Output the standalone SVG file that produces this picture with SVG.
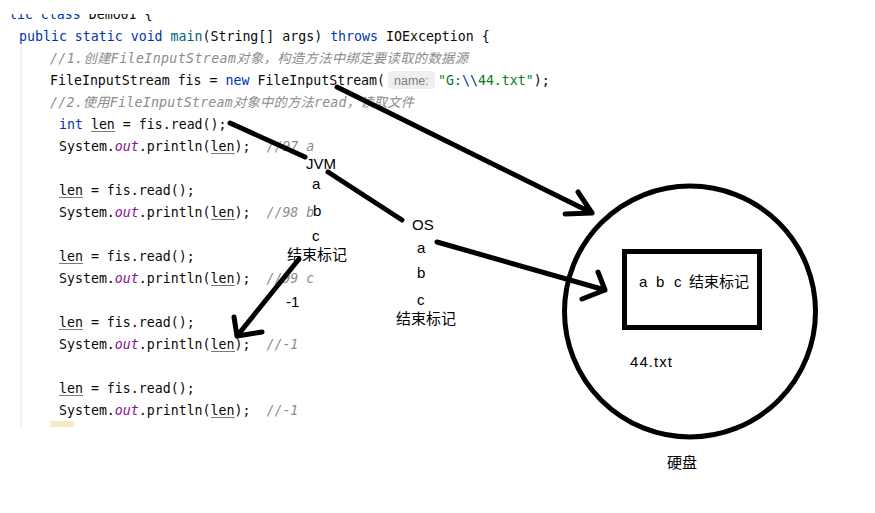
<svg xmlns="http://www.w3.org/2000/svg" width="875" height="513" viewBox="0 0 875 513">
<style>
.code{font-family:"DejaVu Sans Mono","Liberation Mono",monospace;font-size:13.25px;fill:#080808;white-space:pre}
.kw{fill:#0033b3}
.fn{fill:#00627a}
.cm{fill:#8c8c8c;font-style:italic}
.cmz{font-family:"DejaVu Sans Mono","Noto Sans CJK SC",monospace;fill:#8c8c8c;font-style:italic;font-size:13.25px;white-space:pre}
.str{fill:#067d17}
.esc{fill:#0037a6}
.out{fill:#871094;font-style:italic}
.ul{stroke:#7a7a7a;stroke-width:1}
.hint{font-family:"Liberation Sans","Noto Sans",sans-serif;font-size:12.5px;fill:#808080}
.lbl{font-family:"Liberation Sans","Noto Sans CJK SC",sans-serif;font-size:15px;fill:#000}
.shape{fill:none;stroke:#000;stroke-width:5}
</style>
<defs>
<clipPath id="clipTop"><rect x="9" y="14" width="300" height="12"/></clipPath>
</defs>
<rect width="875" height="513" fill="#fff"/>

<g id="code">
<line x1="21" y1="47" x2="21" y2="427" stroke="#e6e6e6" stroke-width="1"/>
<rect x="50" y="421" width="24" height="6" fill="#f5eac6"/>
<text class="code" x="-15" y="19" clip-path="url(#clipTop)"><tspan class="kw">public class</tspan> Demo01 {</text>
<text class="code" x="19" y="41"><tspan class="kw">public static void</tspan> <tspan class="fn">main</tspan>(String[] args) <tspan class="kw">throws</tspan> IOException {</text>
<text class="cmz" x="50" y="63" textLength="418" lengthAdjust="spacing">//1.创建FileInputStream对象，构造方法中绑定要读取的数据源</text>
<text class="code" x="50" y="85">FileInputStream fis = <tspan class="kw">new</tspan> FileInputStream(</text>
<rect x="388" y="71" width="47" height="18" rx="4" fill="#efefef"/>
<text class="hint" x="394" y="84.5">name:</text>
<text class="code" x="438" y="85"><tspan class="str">"G:</tspan><tspan class="esc">\\</tspan><tspan class="str">44.txt"</tspan>);</text>
<text class="cmz" x="50" y="107" textLength="364" lengthAdjust="spacing">//2.使用FileInputStream对象中的方法read，读取文件</text>
<text class="code" x="59" y="129"><tspan class="kw">int</tspan> len = fis.read();</text>
<text class="code" x="59" y="151">System.<tspan class="out">out</tspan>.println(len);  <tspan class="cm">//97 a</tspan></text>
<text class="code" x="59" y="195">len = fis.read();</text>
<text class="code" x="59" y="217">System.<tspan class="out">out</tspan>.println(len);  <tspan class="cm">//98 b</tspan></text>
<text class="code" x="59" y="261">len = fis.read();</text>
<text class="code" x="59" y="283">System.<tspan class="out">out</tspan>.println(len);  <tspan class="cm">//99 c</tspan></text>
<text class="code" x="59" y="327">len = fis.read();</text>
<text class="code" x="59" y="349">System.<tspan class="out">out</tspan>.println(len);  <tspan class="cm">//-1</tspan></text>
<text class="code" x="59" y="393">len = fis.read();</text>
<text class="code" x="59" y="415">System.<tspan class="out">out</tspan>.println(len);  <tspan class="cm">//-1</tspan></text>
<g class="ul">
<line x1="91" y1="131.5" x2="115" y2="131.5"/>
<line x1="211" y1="153.5" x2="235" y2="153.5"/>
<line x1="59" y1="197.5" x2="83" y2="197.5"/>
<line x1="211" y1="219.5" x2="235" y2="219.5"/>
<line x1="59" y1="263.5" x2="83" y2="263.5"/>
<line x1="211" y1="285.5" x2="235" y2="285.5"/>
<line x1="59" y1="329.5" x2="83" y2="329.5"/>
<line x1="211" y1="351.5" x2="235" y2="351.5"/>
<line x1="59" y1="395.5" x2="83" y2="395.5"/>
<line x1="211" y1="417.5" x2="235" y2="417.5"/>
</g>
</g>

<g id="jvm">
<text class="lbl" x="306" y="169">JVM</text>
<text class="lbl" x="312" y="189">a</text>
<text class="lbl" x="313" y="216">b</text>
<text class="lbl" x="312" y="241">c</text>
<text class="lbl" x="287" y="260">结束标记</text>
</g>

<g id="result">
<text class="lbl" x="286" y="307">-1</text>
</g>

<g id="os">
<text class="lbl" x="412" y="230">OS</text>
<text class="lbl" x="417" y="253">a</text>
<text class="lbl" x="417" y="278">b</text>
<text class="lbl" x="417" y="305">c</text>
<text class="lbl" x="396" y="324">结束标记</text>
</g>

<g id="disk">
<circle class="shape" cx="690" cy="311.5" r="125.5"/>
<text class="lbl" x="630" y="367" textLength="42" lengthAdjust="spacing">44.txt</text>
<text class="lbl" x="667" y="468">硬盘</text>
</g>

<g id="file">
<rect class="shape" x="624.5" y="251.5" width="135" height="76"/>
<text class="lbl" y="287"><tspan x="639">a</tspan><tspan x="656">b</tspan><tspan x="674">c</tspan><tspan x="689">结束标记</tspan></text>
</g>

<g id="connectors" fill="none" stroke="#000" stroke-width="5" stroke-linecap="round" stroke-linejoin="round">
<path d="M337,87 L592,213 M578,192 L592,213 L565,214"/>
<path d="M230,123 L305,157"/>
<path d="M328,172 L402,220"/>
<path d="M437,242 L605,290 M598,272 L605,290 L582,299"/>
<path d="M299,259 L237,336 M234,317 L237,336 L262,332"/>
</g>
</svg>
